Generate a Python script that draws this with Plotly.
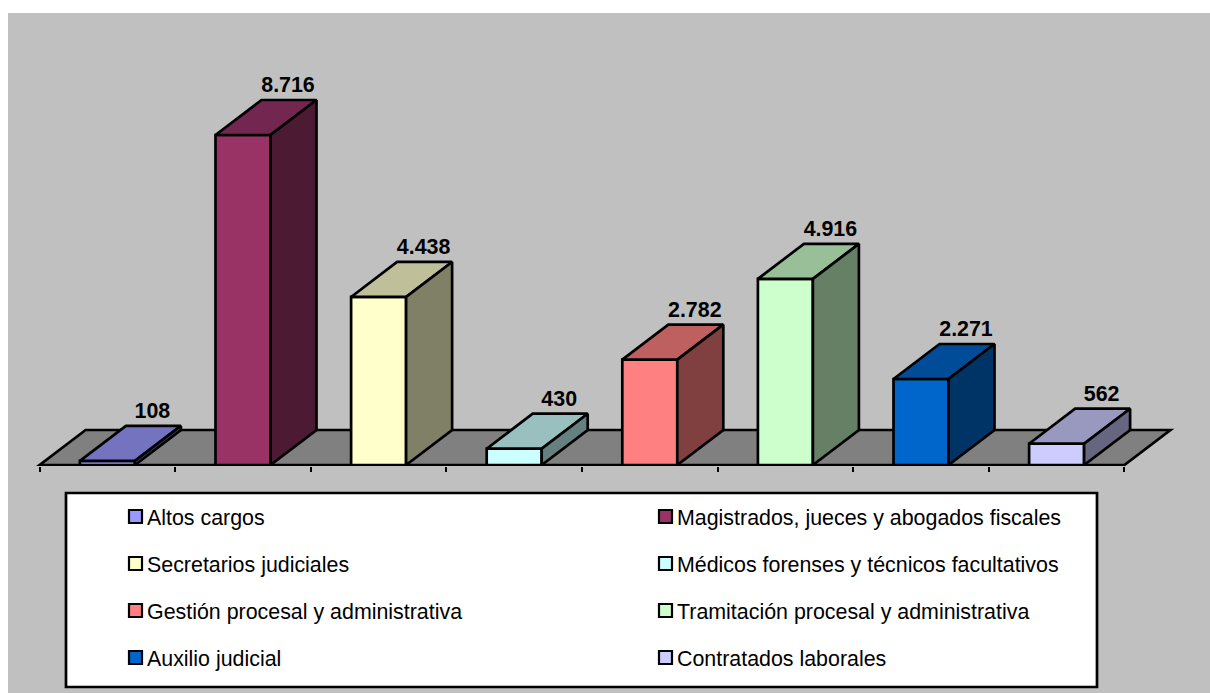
import plotly.graph_objects as go

categories = ["Altos cargos", "Magistrados, jueces y abogados fiscales", "Secretarios judiciales",
              "Médicos forenses y técnicos facultativos", "Gestión procesal y administrativa",
              "Tramitación procesal y administrativa", "Auxilio judicial", "Contratados laborales"]
values = [108, 8716, 4438, 430, 2782, 4916, 2271, 562]
labels = ["108", "8.716", "4.438", "430", "2.782", "4.916", "2.271", "562"]
colors = ["#9999FF", "#993366", "#FFFFCC", "#CCFFFF", "#FF8080", "#CCFFCC", "#0066CC", "#CCCCFF"]
top_colors = ["#7373BF", "#732650", "#BFBF99", "#99BFBF", "#BF6060", "#99BF99", "#004C99", "#9999BF"]
side_colors = ["#4D4D80", "#4D1A33", "#808066", "#668080", "#804040", "#668066", "#003366", "#666680"]

W, H = 1210, 693
L, R, T, B = 30, 1175, 13, 466
X_ORIGIN = 39.6
PX_PER_CAT = 135.6
PX_PER_VAL = 330 / 8716
DX = 46 / PX_PER_CAT
DY = 35 / PX_PER_VAL
BAR_W = 55 / PX_PER_CAT
LABEL_GAP = 2.5 / PX_PER_VAL
LABEL_DX = -1 / PX_PER_CAT
LW = 2.7

fig = go.Figure()

for i, (c, v) in enumerate(zip(categories, values)):
    xc = i + 0.5
    x0, x1 = xc - BAR_W / 2, xc + BAR_W / 2
    fig.add_trace(go.Bar(x=[xc], y=[v], width=[BAR_W], name=c, showlegend=False,
                         marker=dict(color=colors[i], line=dict(color="black", width=LW)),
                         hoverinfo="name+y", cliponaxis=False))
    fig.add_trace(go.Scatter(x=[x0, x1, x1 + DX, x0 + DX, x0], y=[v, v, v + DY, v + DY, v],
                             fill="toself", fillcolor=top_colors[i], mode="lines",
                             line=dict(color="black", width=LW), showlegend=False,
                             hoverinfo="skip", cliponaxis=False))
    fig.add_trace(go.Scatter(x=[x1, x1 + DX, x1 + DX, x1, x1], y=[0, DY, v + DY, v, 0],
                             fill="toself", fillcolor=side_colors[i], mode="lines",
                             line=dict(color="black", width=LW), showlegend=False,
                             hoverinfo="skip", cliponaxis=False))
    fig.add_trace(go.Scatter(x=[xc + DX + LABEL_DX], y=[v + DY + LABEL_GAP], mode="text", text=[labels[i]],
                             textposition="top center",
                             textfont=dict(family="Liberation Sans", size=21.4, color="black", weight="bold"),
                             showlegend=False, hoverinfo="skip", cliponaxis=False))

def px(p):
    return (p - L) / (R - L)

def py(p):
    return (B - p) / (B - T)

shapes = [
    dict(type="rect", xref="paper", yref="paper", x0=px(8), x1=px(W), y0=py(H), y1=py(13),
         fillcolor="#C0C0C0", line=dict(width=0), layer="below"),
    dict(type="path", xref="x", yref="y", layer="below", fillcolor="#808080",
         line=dict(color="black", width=LW),
         path=f"M 0 0 L 8 0 L {8 + DX} {DY} L {DX} {DY} Z"),
    dict(type="rect", xref="paper", yref="paper", x0=px(66), x1=px(1097), y0=py(687), y1=py(493),
         fillcolor="white", line=dict(color="black", width=LW), layer="below"),
]

annotations = []
for i, c in enumerate(categories):
    col_x = 135.5 if i % 2 == 0 else 665.5
    row_y = 517 + 47 * (i // 2)
    shapes.append(dict(type="rect", xref="paper", yref="paper",
                       x0=px(col_x - 6.5), x1=px(col_x + 6.5), y0=py(row_y + 6), y1=py(row_y - 7),
                       fillcolor=colors[i], line=dict(color="black", width=2.2), layer="above"))
    annotations.append(dict(xref="paper", yref="paper", x=px(col_x + 9.5), y=py(row_y + 1),
                            text=c, showarrow=False, xanchor="left", yanchor="middle",
                            font=dict(family="Liberation Sans", size=21.4, color="black")))

fig.update_layout(
    width=W, height=H, autosize=False, showlegend=False, barmode="overlay",
    margin=dict(l=L, r=W - R, t=T, b=H - B, pad=0),
    paper_bgcolor="white", plot_bgcolor="rgba(0,0,0,0)",
    xaxis=dict(range=[(L - X_ORIGIN) / PX_PER_CAT, (R - X_ORIGIN) / PX_PER_CAT], tickmode="array",
               tickvals=list(range(9)), ticktext=[""] * 9, ticks="outside", ticklen=5,
               tickwidth=2, tickcolor="black", showgrid=False, zeroline=False, showline=False),
    yaxis=dict(range=[-1 / PX_PER_VAL, (465 - T) / PX_PER_VAL], visible=False,
               showgrid=False, zeroline=False),
    shapes=shapes,
    annotations=annotations,
)

fig.write_html("out.html", config={"displayModeBar": False},
               post_script="document.body.style.margin='0';")
